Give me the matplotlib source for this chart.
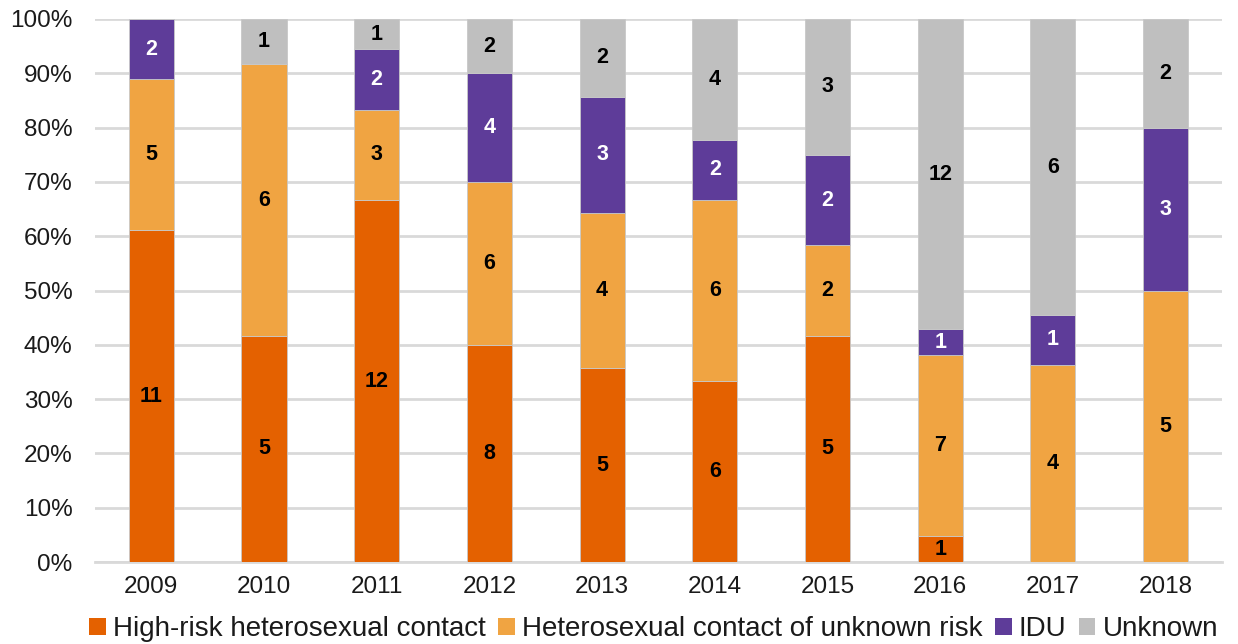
import matplotlib
matplotlib.use("Agg")
import matplotlib.pyplot as plt
import numpy as np

plt.rcParams['font.family'] = ['Liberation Sans', 'DejaVu Sans']

years = ['2009', '2010', '2011', '2012', '2013', '2014', '2015', '2016', '2017', '2018']
high_risk = [11, 5, 12, 8, 5, 6, 5, 1, 0, 0]
het_unknown = [5, 6, 3, 6, 4, 6, 2, 7, 4, 5]
idu = [2, 0, 2, 4, 3, 2, 2, 1, 1, 3]
unknown = [0, 1, 1, 2, 2, 4, 3, 12, 6, 2]

series_names = ['High-risk heterosexual contact', 'Heterosexual contact of unknown risk', 'IDU', 'Unknown']
colors = ['#E46100', '#F0A442', '#5E3C99', '#BFBFBF']
label_colors = ['black', 'black', 'white', 'black']

data = np.array([high_risk, het_unknown, idu, unknown], dtype=float)
totals = data.sum(axis=0)
pct = data / totals * 100

fig = plt.figure(figsize=(12.38, 6.44), dpi=100)
ax = fig.add_axes([0.0767, 0.1273, 0.9103, 0.8432])

x = np.arange(len(years))
bottom = np.zeros(len(years))
for i in range(4):
    ax.bar(x, pct[i], 0.4, bottom=bottom, color=colors[i], label=series_names[i],
           edgecolor='#C8C8C8', linewidth=0.6, zorder=3)
    for j in range(len(years)):
        if data[i, j] > 0:
            ax.text(x[j], bottom[j] + pct[i, j] / 2, f"{int(data[i, j])}", ha='center', va='center',
                    fontsize=15.5, fontweight='bold', color=label_colors[i], zorder=4)
    bottom += pct[i]

ax.set_ylim(0, 100)
ax.set_xlim(-0.5, len(years) - 0.5)
ax.set_yticks(np.arange(0, 101, 10))
ax.set_yticklabels([f"{v}%" for v in range(0, 101, 10)])
ax.set_xticks(x)
ax.set_xticklabels(years)
ax.tick_params(axis='both', length=0, labelsize=17.5, colors='#1a1a1a')
ax.tick_params(axis='x', pad=10)
ax.tick_params(axis='y', pad=16)
ax.grid(axis='y', color='#D9D9D9', linewidth=2, zorder=0)
for s in ['top', 'right', 'left']:
    ax.spines[s].set_visible(False)
ax.spines['bottom'].set_color('#D9D9D9')
ax.spines['bottom'].set_linewidth(2)
ax.spines['bottom'].set_zorder(1)

leg = fig.legend(loc='lower center', bbox_to_anchor=(0.528, -0.036), ncol=4, frameon=False,
                 fontsize=20, handlelength=0.6, handleheight=0.6, handletextpad=0.25,
                 columnspacing=0.45, labelcolor='#1a1a1a')
for h in leg.legend_handles:
    h.set_linewidth(0)

fig.savefig('out.png', dpi=100)
